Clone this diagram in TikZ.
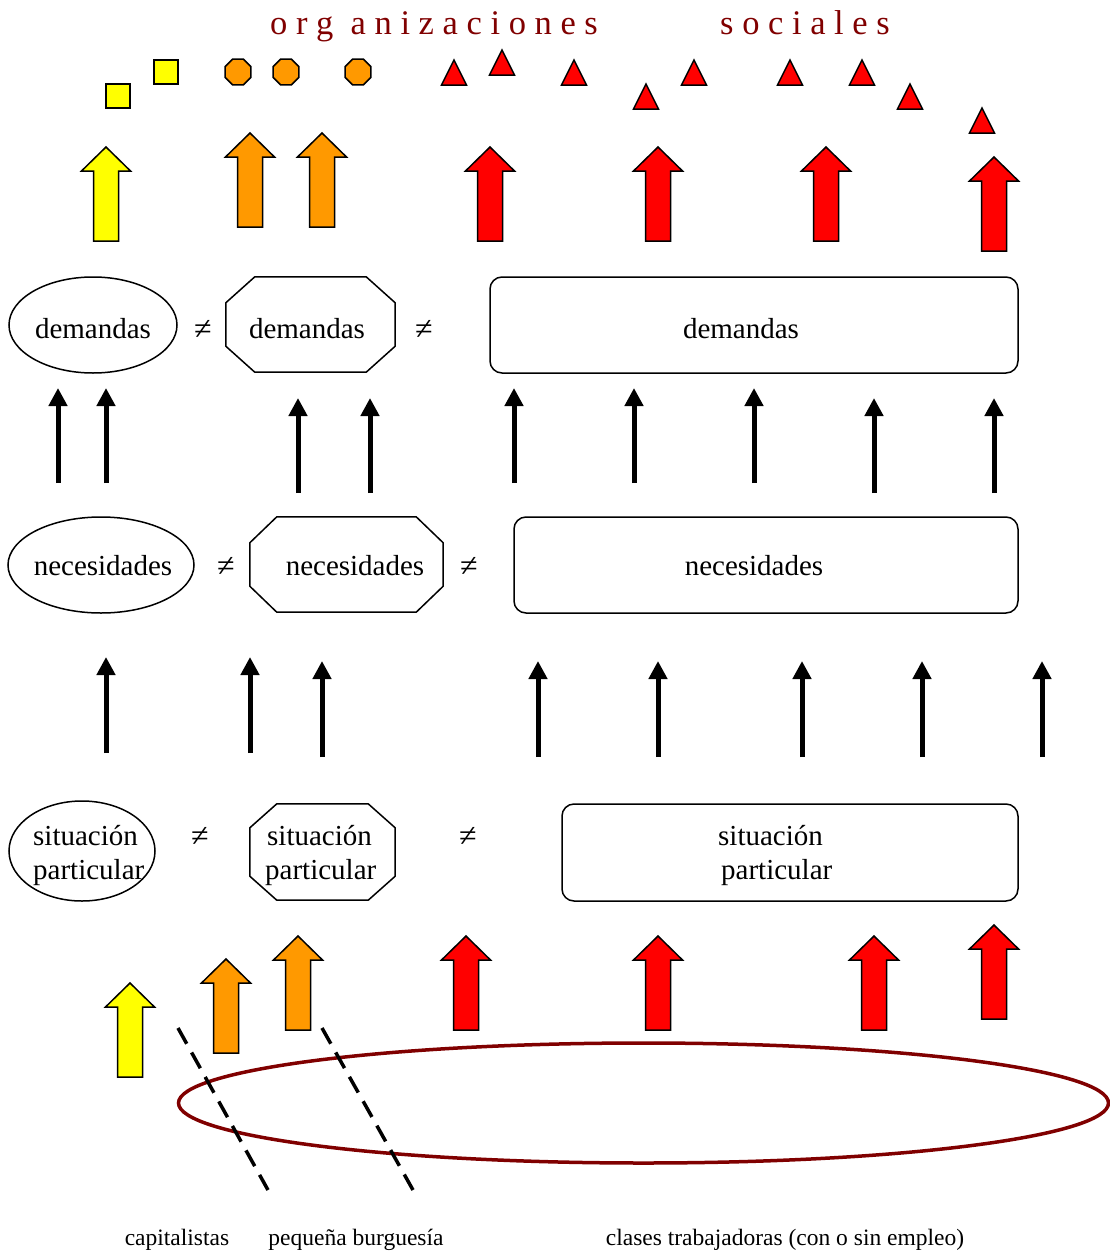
\documentclass[tikz,border=0pt]{standalone}
\usepackage{fontspec}
\setmainfont{Liberation Serif}
\usetikzlibrary{arrows.meta,shapes.geometric}

\definecolor{ylw}{HTML}{FFFF00}
\definecolor{org}{HTML}{FF9900}
\definecolor{rd}{HTML}{FF0000}
\definecolor{darkmaroon}{HTML}{800000}

\tikzset{
  shapeline/.style={draw=black, line width=1.5pt},
  blockline/.style={draw=black, line width=1.5pt, line join=miter},
  txt/.style={font=\fontsize{29}{34}\selectfont, inner sep=0pt},
  neq/.style={font=\fontsize{32}{38}\selectfont, inner sep=0pt, anchor=base},
  smalltxt/.style={font=\fontsize{23.5}{28}\selectfont, inner sep=0pt, anchor=base},
  titletxt/.style={font=\fontsize{34.5}{40}\selectfont, text=darkmaroon, inner sep=0pt, anchor=base west},
  thinarrow/.style={line width=5pt, -{Triangle[length=18pt,width=18pt]}},
  sepline/.style={line width=3.5pt, dash pattern=on 18pt off 10pt},
  sq/.style={shapeline, fill=ylw, rectangle, minimum size=24pt, inner sep=0pt},
  oct/.style={shapeline, fill=org, regular polygon, regular polygon sides=8, minimum size=28pt, inner sep=0pt},
}

% block arrow pointing up: centre x, tip y, fill colour
\newcommand\upblock[3]{%
  \draw[blockline, fill=#3] (#1,#2) -- ++(24.5,24) -- ++(-12,0) -- ++(0,70)
    -- ++(-25,0) -- ++(0,-70) -- ++(-12,0) -- cycle;}
% small red triangle: centre x, base y
\newcommand\tri[2]{%
  \draw[blockline, fill=rd] (#1-12.5,#2) -- (#1+12.5,#2) -- (#1,#2-25) -- cycle;}
% octagonal frame: name, centre, width, height, cut x, cut y
\newcommand\octo[6]{%
  \node[minimum width=#3pt, minimum height=#4pt, inner sep=0pt] (#1) at (#2) {};
  \draw[shapeline] ([xshift=#5pt]#1.north west) -- ([xshift=-#5pt]#1.north east)
    -- ([yshift=-#6pt]#1.north east) -- ([yshift=#6pt]#1.south east)
    -- ([xshift=-#5pt]#1.south east) -- ([xshift=#5pt]#1.south west)
    -- ([yshift=#6pt]#1.south west) -- ([yshift=-#6pt]#1.north west) -- cycle;}

\begin{document}
\begin{tikzpicture}[x=1pt,y=-1pt]
\useasboundingbox (0,0) rectangle (1109,1253);

% title
\node[titletxt] (title1) at (270,34) {o r g\ \ a n i z a c i o n e s};
\node[titletxt] (title2) at (720,34) {s o c i a l e s};

% organisations
\node[sq] (sq1) at (118,96) {};
\node[sq] (sq2) at (166,72) {};
\node[oct] (oc1) at (238,72) {};
\node[oct] (oc2) at (286,72) {};
\node[oct] (oc3) at (358,72) {};
\tri{454}{85} \tri{502}{75} \tri{574}{85} \tri{646}{109} \tri{694}{85}
\tri{790}{85} \tri{862}{85} \tri{910}{109} \tri{982}{133}

% upper block arrows
\upblock{106}{147}{ylw}
\upblock{250}{133}{org}
\upblock{322}{133}{org}
\upblock{490}{147}{rd}
\upblock{658}{147}{rd}
\upblock{826}{147}{rd}
\upblock{994}{157}{rd}

% demandas row
\node[shapeline, ellipse, minimum width=168pt, minimum height=96pt, inner sep=0pt] (dem1) at (93,325) {};
\node[txt, anchor=base] (dem1t) at (93,338) {demandas};
\node[neq] (ne1) at (203,339) {≠};
\octo{dem2}{310.5,324.5}{169}{95}{29}{26}
\node[txt, anchor=base] (dem2t) at (307,338) {demandas};
\node[neq] (ne2) at (424,339) {≠};
\node[shapeline, rounded corners=12pt, minimum width=528pt, minimum height=96pt] (dem3) at (754,325) {};
\node[txt, anchor=base] (dem3t) at (741,338) {demandas};

% arrows from necesidades to demandas
\foreach \x/\y in {58/483, 106/483, 298/493, 370/493, 514/483, 634/483, 754/483, 874/493, 994/493}
  \draw[thinarrow] (\x,\y) -- ++(0,-95);

% necesidades row
\node[shapeline, ellipse, minimum width=186pt, minimum height=96pt, inner sep=0pt] (nec1) at (101,565) {};
\node[txt, anchor=base] (nec1t) at (103,575) {necesidades};
\node[neq] (ne3) at (226,576) {≠};
\octo{nec2}{346.5,564.5}{193}{95}{27}{26}
\node[txt, anchor=base] (nec2t) at (355,575) {necesidades};
\node[neq] (ne4) at (469,576) {≠};
\node[shapeline, rounded corners=12pt, minimum width=504pt, minimum height=96pt] (nec3) at (766,565) {};
\node[txt, anchor=base] (nec3t) at (754,575) {necesidades};

% arrows from situación to necesidades
\foreach \x/\y in {106/753, 250/753, 322/757, 538/757, 658/757, 802/757, 922/757, 1042/757}
  \draw[thinarrow] (\x,\y) -- ++(0,-96);

% situación row
\node[shapeline, ellipse, minimum width=146pt, minimum height=100pt, inner sep=0pt] (sit1) at (82,851) {};
\node[txt, anchor=base west] (sit1a) at (33,845) {situación};
\node[txt, anchor=base west] (sit1b) at (33,879) {particular};
\node[neq] (ne5) at (200,846) {≠};
\octo{sit2}{322.5,852}{145}{96}{27}{24}
\node[txt, anchor=base west] (sit2a) at (267,845) {situación};
\node[txt, anchor=base west] (sit2b) at (265,879) {particular};
\node[neq] (ne6) at (468,846) {≠};
\node[shapeline, rounded corners=12pt, minimum width=456pt, minimum height=97pt] (sit3) at (790,852.5) {};
\node[txt, anchor=base west] (sit3a) at (718,845) {situación};
\node[txt, anchor=base west] (sit3b) at (721,879) {particular};

% lower block arrows
\upblock{130}{983}{ylw}
\upblock{226}{959}{org}
\upblock{298}{936}{org}
\upblock{466}{936}{rd}
\upblock{658}{936}{rd}
\upblock{874}{936}{rd}
\upblock{994}{925}{rd}

% society and class boundaries
\draw[darkmaroon, line width=3.5pt] (643.5,1103) ellipse [x radius=465pt, y radius=60pt];
\coordinate (b1a) at (178,1028);
\coordinate (b1b) at (268,1190);
\coordinate (b2a) at (322,1028);
\coordinate (b2b) at (413,1190);
\draw[sepline] (b1a) -- (b1b);
\draw[sepline] (b2a) -- (b2b);

% class labels
\node[smalltxt] (cl1) at (177,1245) {capitalistas};
\node[smalltxt] (cl2) at (356,1245) {pequeña burguesía};
\node[smalltxt] (cl3) at (785,1245) {clases trabajadoras (con o sin empleo)};
\end{tikzpicture}
\end{document}
